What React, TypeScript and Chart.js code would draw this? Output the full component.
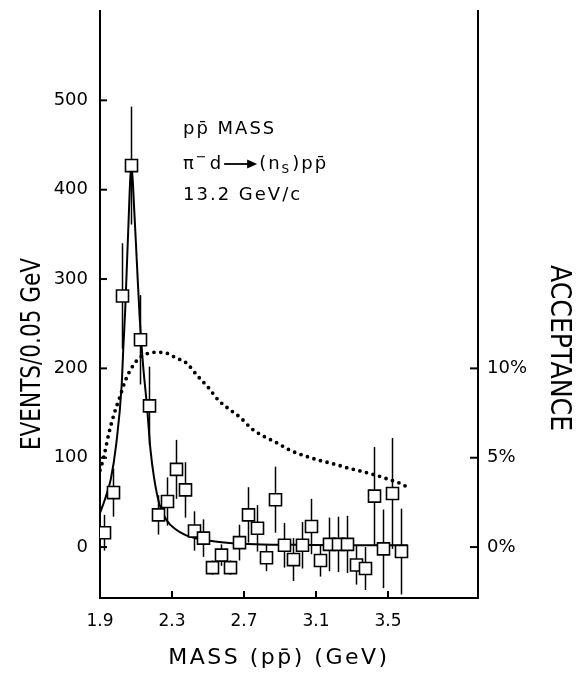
import React, { useEffect, useRef } from "react";
import { Chart, registerables } from "chart.js";

Chart.register(...registerables);

// ---- data ----
const massBins = [1.925, 1.975, 2.025, 2.075, 2.125, 2.175, 2.225, 2.275, 2.325, 2.375, 2.425, 2.475, 2.525, 2.575, 2.625, 2.675, 2.725, 2.775, 2.825, 2.875, 2.925, 2.975, 3.025, 3.075, 3.125, 3.175, 3.225, 3.275, 3.325, 3.375, 3.425, 3.475, 3.525, 3.575];
const events = [16, 61, 281, 427, 232, 158, 36, 51, 87, 64, 18, 10, -23, -9, -23, 5, 36, 21, -12, 53, 2, -14, 2, 23, -15, 3, 3, 3, -20, -24, 57, -2, 60, -5];
const eventErrors = [20, 27, 59, 66, 50, 44, 22, 27, 33, 31, 22, 21, 8, 12, 8, 20, 31, 26, 15, 37, 25, 24, 26, 31, 18, 30, 31, 32, 22, 24, 55, 44, 62, 48];

const fitMass = [1.9, 1.93, 1.96, 1.99, 2.02, 2.03, 2.04, 2.055, 2.075, 2.09, 2.105, 2.12, 2.14, 2.16, 2.18, 2.2, 2.23, 2.27, 2.32, 2.37, 2.45, 2.55, 2.67, 2.8, 3.0, 3.3, 3.61];
const fitEvents = [38, 55, 76, 115, 180, 225, 265, 345, 428, 378, 318, 258, 202, 160, 110, 78, 48, 30, 20, 14, 9, 6, 4, 3, 2.5, 2, 2];

const acceptanceMass = [1.9, 1.92, 1.95, 1.98, 2.01, 2.04, 2.08, 2.12, 2.17, 2.22, 2.27, 2.32, 2.38, 2.44, 2.5, 2.56, 2.62, 2.68, 2.74, 2.8, 2.88, 2.96, 3.04, 3.12, 3.2, 3.28, 3.36, 3.44, 3.5, 3.56, 3.6];
const acceptancePct = [4.3, 5.0, 6.4, 7.5, 8.4, 9.3, 10.1, 10.6, 10.85, 10.9, 10.85, 10.6, 10.3, 9.6, 8.95, 8.2, 7.7, 7.25, 6.65, 6.25, 5.85, 5.4, 5.1, 4.85, 4.65, 4.42, 4.22, 4.0, 3.8, 3.6, 3.4];

const xTicks = [1.9, 2.3, 2.7, 3.1, 3.5];
const xTickLabels = ["1.9", "2.3", "2.7", "3.1", "3.5"];
const yTicks = [0, 100, 200, 300, 400, 500];
const y2Ticks = [0, 5, 10];
const y2TickLabels = ["0%", "5%", "10%"];

const xTitle = "MASS (pp\u0304) (GeV)";
const yTitle = "EVENTS/0.05 GeV";
const y2Title = "ACCEPTANCE";
const noteLine1 = "pp\u0304 MASS";
const noteLine3 = "13.2 GeV/c";

const FONT = "'DejaVu Sans', sans-serif";

const zeroPad = (s: any) => {
  s.paddingTop = 0;
  s.paddingBottom = 0;
  s.paddingLeft = 0;
  s.paddingRight = 0;
};

const decorPlugin = {
  id: "decor",
  beforeDatasetsDraw(chart: any) {
    const ctx = chart.ctx;
    const xs = chart.scales.x;
    const ys = chart.scales.y;
    const area = chart.chartArea;
    ctx.save();
    ctx.beginPath();
    ctx.rect(area.left, area.top, area.right - area.left, area.bottom - area.top);
    ctx.clip();
    ctx.strokeStyle = "#000";
    ctx.lineWidth = 1.5;
    massBins.forEach((m, i) => {
      const px = xs.getPixelForValue(m);
      const y1 = ys.getPixelForValue(events[i] - eventErrors[i]);
      const y2 = ys.getPixelForValue(events[i] + eventErrors[i]);
      ctx.beginPath();
      ctx.moveTo(px, y1);
      ctx.lineTo(px, y2);
      ctx.stroke();
    });
    ctx.restore();
  },
  afterDraw(chart: any) {
    const ctx = chart.ctx;
    const xs = chart.scales.x;
    const ys = chart.scales.y;
    const ys2 = chart.scales.y2;
    const area = chart.chartArea;
    ctx.save();
    ctx.strokeStyle = "#000";
    ctx.fillStyle = "#000";
    ctx.lineWidth = 2;
    // inward tick marks
    yTicks.forEach((v) => {
      const p = ys.getPixelForValue(v);
      ctx.beginPath();
      ctx.moveTo(area.left, p);
      ctx.lineTo(area.left + 7, p);
      ctx.stroke();
    });
    y2Ticks.forEach((v) => {
      const p = ys2.getPixelForValue(v);
      ctx.beginPath();
      ctx.moveTo(area.right, p);
      ctx.lineTo(area.right - 8, p);
      ctx.stroke();
    });
    xTicks.forEach((v) => {
      const p = xs.getPixelForValue(v);
      ctx.beginPath();
      ctx.moveTo(p, area.bottom);
      ctx.lineTo(p, area.bottom - 7);
      ctx.stroke();
    });

    // axis titles
    ctx.textAlign = "center";
    ctx.textBaseline = "middle";
    ctx.save();
    ctx.translate(33, 354);
    ctx.rotate(-Math.PI / 2);
    ctx.scale(0.8, 1);
    ctx.font = `27px ${FONT}`;
    ctx.fillText(yTitle, 0, 0);
    ctx.restore();

    ctx.save();
    ctx.translate(558, 348);
    ctx.rotate(Math.PI / 2);
    ctx.scale(0.9, 1);
    ctx.font = `28px ${FONT}`;
    ctx.fillText(y2Title, 0, 0);
    ctx.restore();

    ctx.save();
    ctx.font = `22px ${FONT}`;
    (ctx as any).letterSpacing = "2.5px";
    ctx.fillText(xTitle, 279, 658);
    ctx.restore();

    // annotation
    ctx.save();
    ctx.textAlign = "left";
    ctx.textBaseline = "middle";
    ctx.font = `18px ${FONT}`;
    (ctx as any).letterSpacing = "2px";
    ctx.fillText(noteLine1, 183, 129);
    ctx.fillText(noteLine3, 183, 195);
    // line 2: pi- d -> (nS) p pbar
    let x = 183;
    const yl = 164;
    ctx.fillText("\u03C0", x, yl);
    x += ctx.measureText("\u03C0").width;
    ctx.font = `13px ${FONT}`;
    ctx.fillText("\u2212", x, yl - 6);
    x += ctx.measureText("\u2212").width + 1;
    ctx.font = `18px ${FONT}`;
    ctx.fillText("d", x, yl);
    x += ctx.measureText("d").width + 1;
    // arrow
    ctx.lineWidth = 1.8;
    ctx.beginPath();
    ctx.moveTo(x, yl);
    ctx.lineTo(x + 26, yl);
    ctx.stroke();
    ctx.beginPath();
    ctx.moveTo(x + 33, yl);
    ctx.lineTo(x + 23, yl - 4.5);
    ctx.lineTo(x + 23, yl + 4.5);
    ctx.closePath();
    ctx.fill();
    x += 35;
    ctx.fillText("(n", x, yl);
    x += ctx.measureText("(n").width;
    ctx.font = `12px ${FONT}`;
    ctx.fillText("S", x, yl + 6);
    x += ctx.measureText("S").width + 1;
    ctx.font = `18px ${FONT}`;
    ctx.fillText(")pp\u0304", x, yl);
    ctx.restore();

    ctx.restore();
  },
};

export default function App() {
  const canvasRef = useRef<HTMLCanvasElement | null>(null);

  useEffect(() => {
    const canvas = canvasRef.current;
    if (!canvas) return;
    const chart = new Chart(canvas, {
      type: "scatter",
      data: {
        datasets: [
          {
            label: "Events",
            data: massBins.map((m, i) => ({ x: m, y: events[i] })),
            yAxisID: "y",
            showLine: false,
            pointStyle: "rect",
            pointRadius: 8.5,
            pointHoverRadius: 8.5,
            pointBackgroundColor: "#ffffff",
            pointBorderColor: "#000000",
            pointBorderWidth: 1.6,
            order: 0,
          },
          {
            label: "Fit",
            data: fitMass.map((m, i) => ({ x: m, y: fitEvents[i] })),
            yAxisID: "y",
            showLine: true,
            pointRadius: 0,
            borderColor: "#000000",
            borderWidth: 2,
            cubicInterpolationMode: "monotone",
            order: 1,
          },
          {
            label: "Acceptance",
            data: acceptanceMass.map((m, i) => ({ x: m, y: acceptancePct[i] })),
            yAxisID: "y2",
            showLine: true,
            pointRadius: 0,
            borderColor: "#000000",
            borderWidth: 3.8,
            borderDash: [0, 6.8],
            borderCapStyle: "round",
            cubicInterpolationMode: "monotone",
            order: 2,
          },
        ] as any,
      },
      options: {
        animation: false,
        responsive: false,
        devicePixelRatio: 1,
        layout: { padding: { top: 11, left: 0, right: 0, bottom: 0 } },
        plugins: { legend: { display: false }, tooltip: { enabled: false } },
        events: [],
        scales: {
          x: {
            type: "linear",
            position: "bottom",
            min: 1.9,
            max: 4.0,
            afterBuildTicks: (s: any) => {
              s.ticks = xTicks.map((v) => ({ value: v }));
            },
            afterFit: (s: any) => {
              s.height = 77;
              zeroPad(s);
            },
            ticks: {
              autoSkip: false,
              maxRotation: 0,
              padding: 13,
              color: "#000",
              font: { family: FONT, size: 17 },
              callback: (v: any) => {
                const i = xTicks.indexOf(Number(v));
                return i >= 0 ? xTickLabels[i] : "";
              },
            },
            grid: { display: false, drawTicks: false },
            border: { display: true, color: "#000", width: 2 },
          },
          y: {
            type: "linear",
            position: "left",
            min: -57,
            max: 600,
            afterBuildTicks: (s: any) => {
              s.ticks = yTicks.map((v) => ({ value: v }));
            },
            afterFit: (s: any) => {
              s.width = 100;
              zeroPad(s);
            },
            ticks: {
              autoSkip: false,
              padding: 12,
              color: "#000",
              font: { family: FONT, size: 18 },
              callback: (v: any) => String(v),
            },
            grid: { display: false, drawTicks: false },
            border: { display: true, color: "#000", width: 2 },
          },
          y2: {
            type: "linear",
            position: "right",
            min: -2.85,
            max: 30,
            afterBuildTicks: (s: any) => {
              s.ticks = y2Ticks.map((v) => ({ value: v }));
            },
            afterFit: (s: any) => {
              s.width = 98;
              zeroPad(s);
            },
            ticks: {
              autoSkip: false,
              padding: 9,
              color: "#000",
              font: { family: FONT, size: 18 },
              callback: (v: any) => {
                const i = y2Ticks.indexOf(Number(v));
                return i >= 0 ? y2TickLabels[i] : "";
              },
            },
            grid: { display: false, drawTicks: false },
            border: { display: true, color: "#000", width: 2 },
          },
        },
      } as any,
      plugins: [decorPlugin],
    });
    return () => chart.destroy();
  }, []);

  return (
    <div style={{ position: "absolute", left: 0, top: 0, width: 576, height: 675, background: "#fff" }}>
      <canvas ref={canvasRef} width={576} height={675} style={{ display: "block", width: 576, height: 675 }} />
    </div>
  );
}
